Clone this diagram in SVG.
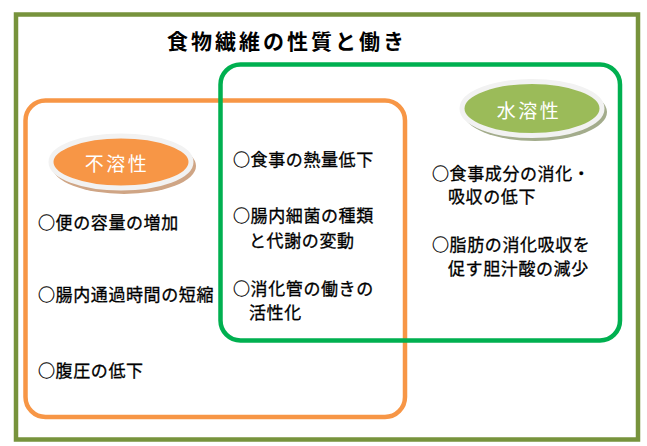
<svg xmlns="http://www.w3.org/2000/svg" width="647" height="446" viewBox="0 0 647 446">
<style>
.t{font-family:"Noto Sans CJK JP","Noto Sans CJK SC",sans-serif;font-size:17px;letter-spacing:0.6px;fill:#000;stroke:#000;stroke-width:0.3px}
.title{font-family:"Noto Sans CJK JP","Noto Sans CJK SC",sans-serif;font-size:21px;font-weight:bold;letter-spacing:3px;fill:#000}
.lbl{font-family:"Noto Sans CJK JP","Noto Sans CJK SC",sans-serif;font-size:19px;letter-spacing:2.5px;fill:#fff;text-anchor:middle}
.rim{stroke:#F2F2F2;stroke-width:5}
</style>
<rect width="647" height="446" fill="#fff"/>
<g id="frame">
<rect x="16" y="14.5" width="622" height="425" fill="none" stroke="#77933C" stroke-width="4.5"/>
<text class="title" x="167" y="49">食物繊維の性質と働き</text>
</g>
<g id="insoluble">
<rect x="25.5" y="100.5" width="379.5" height="316.5" rx="20" ry="20" fill="none" stroke="#F79646" stroke-width="4.5"/>
<ellipse cx="124" cy="166" rx="72" ry="28" fill="#CFA585"/>
<ellipse cx="121" cy="162" rx="70" ry="26" fill="#F79646" class="rim"/>
<text class="lbl" x="117" y="171">不溶性</text>
<text class="t" x="38" y="229">○便の容量の増加</text>
<text class="t" x="38" y="301">○腸内通過時間の短縮</text>
<text class="t" x="38" y="377">○腹圧の低下</text>
</g>
<g id="soluble">
<rect x="220.5" y="64.5" width="399.5" height="276" rx="20" ry="20" fill="none" stroke="#00B050" stroke-width="4.5"/>
<ellipse cx="535" cy="112" rx="72" ry="29" fill="#A3AC8C"/>
<ellipse cx="532" cy="108.5" rx="70" ry="27" fill="#9BBB59" class="rim"/>
<text class="lbl" x="529" y="118">水溶性</text>
<text class="t" x="432" y="180">○食事成分の消化・</text>
<text class="t" x="448" y="203">吸収の低下</text>
<text class="t" x="432" y="251">○脂肪の消化吸収を</text>
<text class="t" x="448" y="275">促す胆汁酸の減少</text>
</g>
<g id="both">
<text class="t" x="233" y="166">○食事の熱量低下</text>
<text class="t" x="233" y="222">○腸内細菌の種類</text>
<text class="t" x="249" y="247">と代謝の変動</text>
<text class="t" x="233" y="295">○消化管の働きの</text>
<text class="t" x="249" y="319">活性化</text>
</g>
<g id="connectors"></g>
</svg>
